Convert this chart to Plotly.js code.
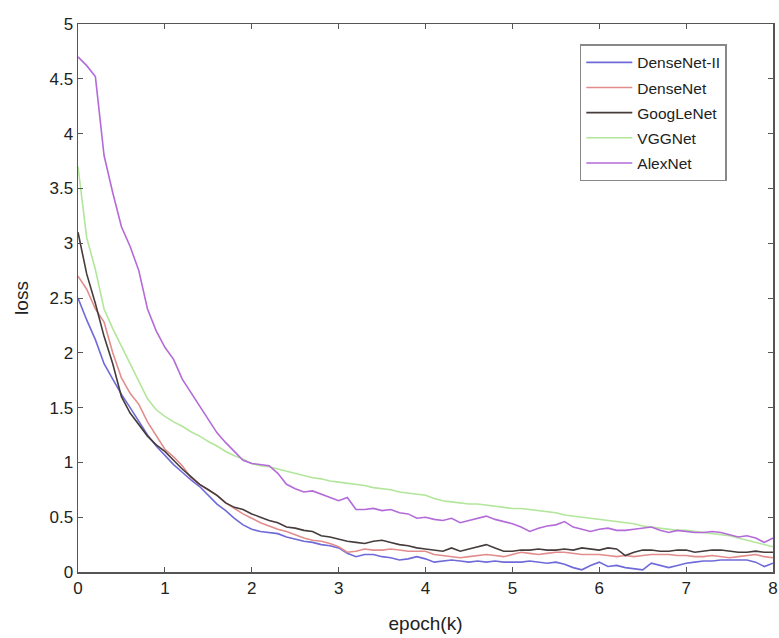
<!DOCTYPE html>
<html>
<head>
<meta charset="utf-8">
<script src="https://cdn.plot.ly/plotly-3.0.1.min.js"></script>
<style>html,body{margin:0;padding:0;background:#fff;}#chart{width:779px;height:638px;}</style>
</head>
<body>
<div id="chart"></div>
<script>
// epoch (k), step 0.1
const epochs = [];
for (let i = 0; i <= 80; i++) epochs.push(+(i / 10).toFixed(1));

const seriesNames = ["DenseNet-II", "DenseNet", "GoogLeNet", "VGGNet", "AlexNet"];

const denseNetII = [2.50,2.30,2.12,1.90,1.76,1.62,1.50,1.37,1.25,1.15,
  1.06,0.98,0.91,0.84,0.78,0.70,0.62,0.56,0.49,0.43,
  0.39,0.37,0.36,0.35,0.32,0.30,0.28,0.27,0.25,0.24,
  0.22,0.17,0.14,0.16,0.16,0.14,0.13,0.11,0.12,0.14,
  0.12,0.09,0.10,0.11,0.10,0.09,0.10,0.09,0.10,0.09,
  0.09,0.09,0.10,0.09,0.08,0.09,0.07,0.04,0.02,0.06,
  0.09,0.05,0.06,0.04,0.03,0.02,0.08,0.06,0.04,0.06,
  0.08,0.09,0.10,0.10,0.11,0.11,0.11,0.11,0.09,0.05,0.08];

const denseNet = [2.70,2.58,2.40,2.28,2.00,1.77,1.63,1.53,1.37,1.24,
  1.12,1.05,0.97,0.86,0.80,0.75,0.70,0.63,0.58,0.53,
  0.49,0.45,0.42,0.39,0.37,0.34,0.31,0.29,0.28,0.26,
  0.23,0.18,0.19,0.21,0.20,0.20,0.21,0.20,0.19,0.19,
  0.19,0.16,0.15,0.14,0.13,0.14,0.15,0.16,0.15,0.14,
  0.16,0.18,0.17,0.16,0.17,0.18,0.18,0.17,0.16,0.16,
  0.16,0.15,0.14,0.15,0.14,0.15,0.16,0.16,0.16,0.15,
  0.15,0.14,0.14,0.15,0.14,0.13,0.14,0.15,0.16,0.14,0.13];

const googLeNet = [3.10,2.72,2.45,2.15,1.90,1.60,1.45,1.35,1.24,1.16,
  1.10,1.02,0.94,0.87,0.80,0.75,0.70,0.63,0.59,0.57,
  0.53,0.50,0.47,0.45,0.41,0.40,0.38,0.37,0.33,0.32,
  0.30,0.28,0.27,0.26,0.28,0.29,0.27,0.25,0.24,0.22,
  0.21,0.20,0.19,0.22,0.19,0.21,0.23,0.25,0.22,0.19,
  0.19,0.20,0.20,0.21,0.20,0.20,0.21,0.20,0.22,0.21,
  0.20,0.22,0.21,0.15,0.18,0.20,0.20,0.19,0.19,0.20,
  0.20,0.18,0.19,0.20,0.20,0.19,0.18,0.18,0.19,0.18,0.18];

const vggNet = [3.70,3.05,2.76,2.40,2.22,2.06,1.90,1.73,1.58,1.48,
  1.42,1.37,1.33,1.28,1.24,1.19,1.15,1.10,1.06,1.03,
  0.99,0.97,0.96,0.94,0.92,0.90,0.88,0.86,0.85,0.83,
  0.82,0.81,0.80,0.79,0.77,0.76,0.75,0.73,0.72,0.71,
  0.70,0.67,0.65,0.64,0.63,0.62,0.62,0.61,0.60,0.59,
  0.58,0.58,0.57,0.56,0.55,0.54,0.52,0.51,0.50,0.49,
  0.48,0.47,0.46,0.45,0.44,0.42,0.41,0.40,0.39,0.38,
  0.38,0.37,0.36,0.35,0.34,0.33,0.31,0.29,0.27,0.25,0.23];

const alexNet = [4.70,4.62,4.52,3.80,3.46,3.15,2.97,2.75,2.40,2.20,
  2.05,1.94,1.76,1.64,1.51,1.40,1.27,1.18,1.10,1.02,
  0.99,0.98,0.97,0.90,0.80,0.76,0.73,0.74,0.71,0.68,
  0.65,0.68,0.57,0.57,0.58,0.56,0.57,0.54,0.53,0.49,
  0.50,0.48,0.47,0.49,0.45,0.47,0.49,0.51,0.48,0.46,
  0.44,0.41,0.37,0.40,0.42,0.43,0.46,0.41,0.39,0.37,
  0.39,0.40,0.38,0.38,0.39,0.40,0.41,0.38,0.36,0.38,
  0.37,0.36,0.36,0.37,0.36,0.34,0.32,0.33,0.31,0.27,0.31];

const xTicks = [0,1,2,3,4,5,6,7,8];
const yTicks = [0,0.5,1,1.5,2,2.5,3,3.5,4,4.5,5];
const yTickText = ["0","0.5","1","1.5","2","2.5","3","3.5","4","4.5","5"];

const colors = ["#6f6ad8", "#e28c8c", "#463c3c", "#b2e69a", "#b46ad8"];
const allSeries = [denseNetII, denseNet, googLeNet, vggNet, alexNet];

const traces = allSeries.map((ys, i) => ({
  x: epochs, y: ys, type: "scatter", mode: "lines",
  name: seriesNames[i], legendgroup: "g" + i,
  line: {color: colors[i], width: 1.6}
}));

const FONT = "Liberation Sans, Arial, sans-serif";
const axisCommon = {
  showline: true, mirror: "ticks", linecolor: "#555", linewidth: 1.5,
  ticks: "inside", ticklen: 5, tickcolor: "#555", tickwidth: 1,
  showgrid: false, zeroline: false,
  tickfont: {family: FONT, size: 17, color: "#222"}
};

const layout = {
  width: 779, height: 638,
  margin: {l: 78, r: 6, t: 24, b: 66},
  paper_bgcolor: "#fff", plot_bgcolor: "#fff",
  showlegend: true,
  xaxis: Object.assign({}, axisCommon, {
    range: [0, 8], tickvals: xTicks, ticktext: xTicks.map(String),
    title: {text: "epoch(k)", standoff: 20, font: {family: FONT, size: 19, color: "#222"}}
  }),
  yaxis: Object.assign({}, axisCommon, {
    range: [0, 5], tickvals: yTicks, ticktext: yTickText,
    title: {text: "loss", standoff: 16, font: {family: FONT, size: 19, color: "#222"}}
  }),
  legend: {
    x: 0.722, y: 0.963, xanchor: "left", yanchor: "top",
    bgcolor: "#fff", bordercolor: "#888", borderwidth: 1.5,
    font: {family: FONT, size: 15.5, color: "#222"},
    tracegroupgap: 2, itemwidth: 46
  }
};

Plotly.newPlot("chart", traces, layout, {displayModeBar: false, staticPlot: true});
</script>
</body>
</html>
